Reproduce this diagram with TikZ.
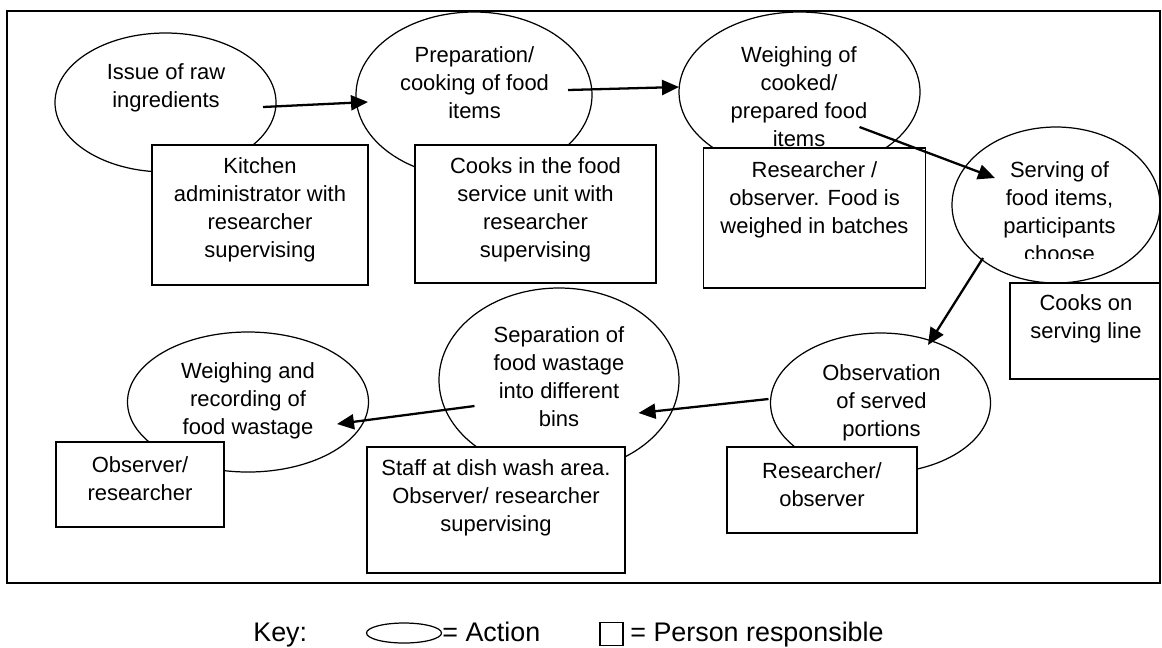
\documentclass[tikz,border=0pt]{standalone}
\usepackage{fontspec}
\setmainfont{Liberation Sans}
\usetikzlibrary{shapes.geometric,arrows.meta,calc}
\begin{document}
\begin{tikzpicture}[x=0.02cm,y=-0.02cm]
\tikzset{
  act/.style={ellipse, draw, line width=0.7pt, inner sep=0pt},
  resp/.style={rectangle, draw, fill=white, line width=0.7pt, inner sep=0pt},
  lbl/.style={align=center, font=\fontsize{12.5}{15.9}\selectfont, inner sep=0pt},
  keytxt/.style={font=\fontsize{15.3}{18}\selectfont, inner sep=0pt},
  flow/.style={line width=1.3pt, -{Triangle[length=0.34cm,width=0.3cm]}},
  frame/.style={line width=0.9pt}
}
\useasboundingbox (0,0) rectangle (1162,647);
\draw[frame] (7,11) rectangle (1160,583);

% actions (ellipses)
\node[act, minimum width={221*0.02cm}, minimum height={139*0.02cm}] (e1) at (165.5,102.5) {};
\node[act, minimum width={236*0.02cm}, minimum height={166*0.02cm}] (e2) at (474,95) {};
\node[act, minimum width={241*0.02cm}, minimum height={160*0.02cm}] (e3) at (799.5,92) {};
\node[act, minimum width={208*0.02cm}, minimum height={156*0.02cm}] (e4) at (1056,205) {};
\node[act, minimum width={220*0.02cm}, minimum height={140*0.02cm}] (e5) at (880.5,403) {};
\node[act, minimum width={240*0.02cm}, minimum height={184*0.02cm}] (e6) at (559,380) {};
\node[act, minimum width={241*0.02cm}, minimum height={140*0.02cm}] (e7) at (248,402) {};

\node[lbl] (t1) at (166,87.5) {Issue of raw\\ingredients};
\node[lbl] (t2) at (474.5,82.5) {Preparation/\\cooking of food\\items};
\node[lbl] (t3) at (799,96.5) {Weighing of\\cooked/\\prepared food\\items};
\begin{scope}
  \clip (940,100) rectangle (1160,258);
  \node[lbl] (t4) at (1059.5,211.5) {Serving of\\food items,\\participants\\choose};
\end{scope}
\node[lbl] (t5) at (881.5,402.5) {Observation\\of served\\portions};
\node[lbl] (t6) at (559,376.5) {Separation of\\food wastage\\into different\\bins};
\node[lbl] (t7) at (248,400.5) {Weighing and\\recording of\\food wastage};

% persons responsible (boxes)
\node[resp, minimum width={216*0.02cm}, minimum height={140*0.02cm}] (b1) at (260,215) {};
\node[resp, minimum width={241*0.02cm}, minimum height={138*0.02cm}] (b2) at (535.5,214) {};
\node[resp, minimum width={222*0.02cm}, minimum height={140*0.02cm}] (b3) at (814.5,218) {};
\node[resp, minimum width={150*0.02cm}, minimum height={96*0.02cm}] (b4) at (1085,331) {};
\node[resp, minimum width={190*0.02cm}, minimum height={86*0.02cm}] (b5) at (822,490) {};
\node[resp, minimum width={258*0.02cm}, minimum height={126*0.02cm}] (b6) at (496,510) {};
\node[resp, minimum width={168*0.02cm}, minimum height={85*0.02cm}] (b7) at (140,484.5) {};

\node[lbl] (u1) at (260,209.5) {Kitchen\\administrator with\\researcher\\supervising};
\node[lbl] (u2) at (535.5,209.5) {Cooks in the food\\service unit with\\researcher\\supervising};
\node[lbl] (u3) at (814.5,199.5) {Researcher /\\observer. Food is\\weighed in batches};
\node[lbl] (u4) at (1086,318.5) {Cooks on\\serving line};
\node[lbl] (u5) at (822,484.5) {Researcher/\\observer};
\node[lbl] (u6) at (496,497.5) {Staff at dish wash area.\\Observer/ researcher\\supervising};
\node[lbl] (u7) at (140,478.5) {Observer/\\researcher};

% flow arrows
\draw[flow] ($(e1.center)+(97.5,4.5)$) -- ($(e2.center)+(-106,7)$);
\draw[flow] ($(e2.center)+(94,-5)$) -- ($(e3.center)+(-120.5,-5)$);
\draw[flow] ($(e3.center)+(60,35)$) -- ($(e4.center)+(-61,-27)$);
\draw[flow] ($(e4.center)+(-73,53)$) -- ($(e5.center)+(47.5,-58)$);
\draw[flow] ($(e5.center)+(-112,-4)$) -- ($(e6.center)+(79.5,33)$);
\draw[flow] ($(e6.center)+(-84.5,26)$) -- ($(e7.center)+(89,22)$);

% key
\node[keytxt, anchor=base west] (k1) at (253,641) {Key:};
\node[act, minimum width={75*0.02cm}, minimum height={20*0.02cm}] (k2) at (404,633) {};
\node[keytxt, anchor=base west] (k3) at (442,641) {= Action};
\node[resp, minimum width={23*0.02cm}, minimum height={23*0.02cm}] (k4) at (611.5,634) {};
\node[keytxt, anchor=base west] (k5) at (630,641) {= Person responsible};
\end{tikzpicture}
\end{document}
